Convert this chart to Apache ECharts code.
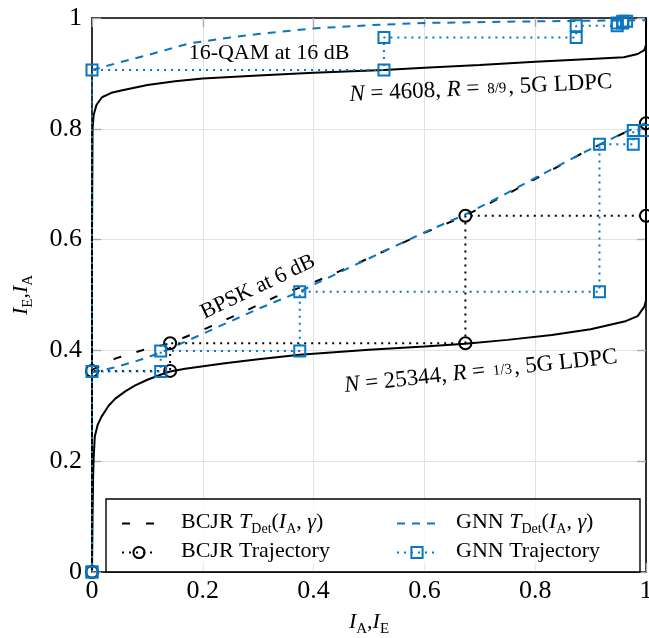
<!DOCTYPE html>
<html>
<head>
<meta charset="utf-8">
<script src="https://cdn.jsdelivr.net/npm/echarts@6/dist/echarts.min.js"></script>
<style>
html,body{margin:0;padding:0;background:#fff;}
#c{width:649px;height:638px;}
</style>
</head>
<body>
<div id="c"></div>
<script>
// ---------- data ----------
const xTicks = [0, 0.2, 0.4, 0.6, 0.8, 1];
const yTicks = [0, 0.2, 0.4, 0.6, 0.8, 1];

// decoder EXIT curve, N = 4608, R = 8/9 (axes swapped)
const ldpc4608 = [[0,0],[0,0.6],[0.001,0.8],[0.003,0.825],[0.008,0.843],[0.018,0.857],[0.035,0.865],[0.057,0.870],[0.1,0.879],[0.15,0.886],[0.2,0.891],[0.3,0.896],[0.4,0.901],[0.527,0.906],[0.6,0.910],[0.7,0.915],[0.8,0.921],[0.9,0.926],[0.96,0.929],[0.985,0.935],[0.997,0.942],[1,0.951],[1,1]];
// decoder EXIT curve, N = 25344, R = 1/3 (axes swapped)
const ldpc25344 = [[0,0],[0.001,0.1],[0.002,0.17],[0.003,0.206],[0.005,0.244],[0.01,0.265],[0.017,0.28],[0.03,0.3],[0.042,0.313],[0.06,0.326],[0.078,0.337],[0.1,0.347],[0.126,0.357],[0.141,0.362],[0.168,0.367],[0.24,0.377],[0.3,0.384],[0.375,0.392],[0.5,0.401],[0.6,0.407],[0.674,0.412],[0.75,0.419],[0.83,0.428],[0.9,0.438],[0.961,0.452],[0.985,0.462],[0.997,0.479],[1,0.49],[1,1]];
// detector transfer curves, BPSK at 6 dB
const bcjrBpsk = [[0,0.365],[0.044,0.386],[0.086,0.399],[0.141,0.413],[0.2,0.437],[0.27,0.468],[0.332,0.497],[0.403,0.524],[0.47,0.553],[0.538,0.584],[0.6,0.612],[0.673,0.643],[0.74,0.677],[0.803,0.711],[0.887,0.757],[0.959,0.792],[1,0.81]];
const gnnBpsk = [[0,0.36],[0.04,0.369],[0.078,0.38],[0.124,0.396],[0.2,0.43],[0.3,0.475],[0.375,0.506],[0.403,0.52],[0.47,0.552],[0.538,0.584],[0.6,0.613],[0.673,0.645],[0.74,0.679],[0.803,0.713],[0.899,0.763],[0.96,0.793],[1,0.81]];
// GNN detector transfer curve, 16-QAM at 16 dB
const gnnQam = [[0,0.906],[0.05,0.92],[0.1,0.933],[0.175,0.954],[0.25,0.965],[0.3,0.971],[0.397,0.981],[0.5,0.987],[0.6,0.991],[0.8,0.994],[1,0.996]];
// trajectories
const bcjrTrajBpsk = [[0,0],[0,0.363],[0.141,0.363],[0.141,0.413],[0.674,0.413],[0.674,0.643],[1,0.643],[1,0.81]];
const gnnTrajBpsk = [[0,0],[0,0.362],[0.124,0.362],[0.124,0.399],[0.375,0.399],[0.375,0.506],[0.916,0.506],[0.916,0.772],[0.977,0.772],[0.977,0.797],[0.998,0.797]];
const gnnTrajQam = [[0,0],[0,0.906],[0.527,0.906],[0.527,0.965],[0.874,0.965],[0.874,0.986],[0.948,0.986],[0.948,0.991],[0.958,0.991],[0.958,0.994],[0.965,0.994]];

// ---------- styling ----------
const FONT = 'Liberation Serif';
const BLUE = '#0876C0';
const BLACK = '#000000';

const mathRich = (size, sub) => ({
  gap: {width: 20, fontSize: size, fontFamily: FONT},
  gap2: {width: 14, fontSize: size, fontFamily: FONT},
  n: {fontSize: size, fontFamily: FONT, color: '#000', lineHeight: size + 3, verticalAlign: 'top'},
  i: {fontSize: size, fontFamily: FONT, fontStyle: 'italic', color: '#000', lineHeight: size + 3, verticalAlign: 'top'},
  s: {fontSize: sub, fontFamily: FONT, color: '#000', lineHeight: sub, padding: [Math.round(size * 0.5), 0, 0, 0], verticalAlign: 'top'},
  f: {fontSize: sub + 1, fontFamily: FONT, color: '#000', lineHeight: sub, padding: [Math.round(size * 0.2), 2, 0, 2], verticalAlign: 'top'}
});

const legendText = {
  'BCJR TDet': '{gap| }{n|BCJR }{i|T}{s|Det}{n|(}{i|I}{s|A}{n|, }{i|γ}{n|)}',
  'GNN TDet': '{gap2| }{n|GNN }{i|T}{s|Det}{n|(}{i|I}{s|A}{n|, }{i|γ}{n|)}',
  'BCJR Trajectory': '{gap| }{n|BCJR Trajectory}',
  'GNN Trajectory': '{gap2| }{n|GNN Trajectory}'
};

const gridLine = {show: true, lineStyle: {color: '#e2e2e2', width: 1}};
const frame = {show: true, onZero: false, lineStyle: {color: '#000', width: 1.6}};
const tick = {show: true, inside: true, length: 9, lineStyle: {color: '#a8a8a8', width: 1.4}};
const noSymbol = {color: 'rgba(0,0,0,0)', borderWidth: 0, opacity: 0};

const chart = echarts.init(document.getElementById('c'), null, {renderer: 'canvas'});

const curve = (name, data, color, dash, z) => ({
  name, type: 'line', data, xAxisIndex: 0, yAxisIndex: 0,
  showSymbol: false, symbol: 'none', smooth: false, z: z || 2,
  lineStyle: {color, width: 2, type: dash},
  itemStyle: {color}
});
const traj = (name, data, color, symbol, size) => ({
  name, type: 'line', data, xAxisIndex: 0, yAxisIndex: 0,
  showSymbol: true, showAllSymbol: true, symbol, symbolSize: size, z: 3,
  lineStyle: {color, width: 2, type: [2, 5]},
  itemStyle: {color: 'rgba(255,255,255,0)', borderColor: color, borderWidth: 2}
});

const legendFont = {fontFamily: FONT, fontSize: 22, color: '#000', rich: mathRich(22, 14)};

const option = {
  animation: false,
  backgroundColor: '#fff',
  grid: {left: 92, top: 18, width: 554, height: 554, containLabel: false, outerBoundsMode: 'none'},
  xAxis: [
    {type: 'value', min: 0, max: 1, interval: 0.2, position: 'bottom',
     axisLine: frame, axisTick: tick, splitLine: gridLine,
     axisLabel: {fontFamily: FONT, fontSize: 26, color: '#000', margin: 6, formatter: v => String(+v.toFixed(1))},
     name: '{i|I}{s|A}{n|,}{i|I}{s|E}', nameLocation: 'middle', nameGap: 39,
     nameTextStyle: {rich: mathRich(22, 15)}},
    {type: 'value', min: 0, max: 1, interval: 0.2, position: 'top',
     axisLine: frame, axisTick: tick, splitLine: {show: false}, axisLabel: {show: false}}
  ],
  yAxis: [
    {type: 'value', min: 0, max: 1, interval: 0.2, position: 'left',
     axisLine: frame, axisTick: tick, splitLine: gridLine,
     axisLabel: {fontFamily: FONT, fontSize: 26, color: '#000', margin: 10, formatter: v => String(+v.toFixed(1))},
     name: '{i|I}{s|E}{n|,}{i|I}{s|A}', nameLocation: 'middle', nameGap: 57,
     nameTextStyle: {rich: mathRich(22, 15)}},
    {type: 'value', min: 0, max: 1, interval: 0.2, position: 'right',
     axisLine: frame, axisTick: tick, splitLine: {show: false}, axisLabel: {show: false}}
  ],
  legend: [
    {orient: 'vertical', left: 116, top: 506, itemWidth: 34, itemHeight: 14, itemGap: 4,
     data: [{name: 'BCJR TDet', itemStyle: noSymbol}, 'BCJR Trajectory'],
     formatter: n => legendText[n],
     textStyle: legendFont},
    {orient: 'vertical', left: 391, top: 506, itemWidth: 40, itemHeight: 14, itemGap: 4,
     data: [{name: 'GNN TDet', itemStyle: noSymbol}, 'GNN Trajectory'],
     formatter: n => legendText[n],
     textStyle: legendFont}
  ],
  graphic: [
    {type: 'rect', z: 1, shape: {x: 106, y: 499, width: 534, height: 73},
     style: {fill: 'rgba(255,255,255,0.75)', stroke: '#000', lineWidth: 1.4}},
    {type: 'text', z: 10, x: 269, y: 53,
     style: {text: '16-QAM at 16 dB', fontFamily: FONT, fontSize: 22, fill: '#000', align: 'center', verticalAlign: 'middle'}},
    {type: 'text', z: 10, x: 481, y: 90, rotation: 2.8 * Math.PI / 180,
     style: {text: '{i|N}{n| = 4608, }{i|R}{n| = }{f|8/9}{n|, 5G LDPC}', rich: mathRich(23, 14), align: 'center', verticalAlign: 'middle'}},
    {type: 'text', z: 10, x: 258, y: 287, rotation: 25.5 * Math.PI / 180,
     style: {text: 'BPSK at 6 dB', fontFamily: FONT, fontSize: 22, fill: '#000', align: 'center', verticalAlign: 'middle'}},
    {type: 'text', z: 10, x: 481, y: 373, rotation: 6.1 * Math.PI / 180,
     style: {text: '{i|N}{n| = 25344, }{i|R}{n| = }{f|1/3}{n|, 5G LDPC}', rich: mathRich(23, 14), align: 'center', verticalAlign: 'middle'}}
  ],
  series: [
    curve('LDPC 4608', ldpc4608, BLACK, 'solid'),
    curve('LDPC 25344', ldpc25344, BLACK, 'solid'),
    curve('BCJR TDet', bcjrBpsk, BLACK, [8, 16]),
    curve('GNN TDet', gnnBpsk, BLUE, [8, 7]),
    curve('GNN TDet', gnnQam, BLUE, [8, 7]),
    traj('BCJR Trajectory', bcjrTrajBpsk, BLACK, 'circle', 12),
    traj('GNN Trajectory', gnnTrajBpsk, BLUE, 'rect', 11),
    traj('GNN Trajectory', gnnTrajQam, BLUE, 'rect', 11)
  ]
};
chart.setOption(option);
</script>
</body>
</html>
